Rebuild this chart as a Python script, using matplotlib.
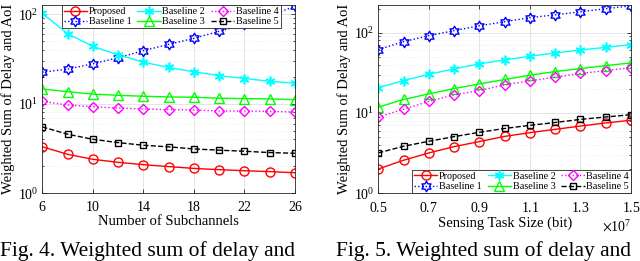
import numpy as np
import matplotlib
matplotlib.use('agg')
import matplotlib.pyplot as plt
from matplotlib.path import Path
from matplotlib.ticker import LogLocator, NullFormatter, ScalarFormatter

plt.rcParams['font.family'] = ['Liberation Serif', 'DejaVu Serif']
plt.rcParams['mathtext.fontset'] = 'stix'

# Fig. 4 data: number of subchannels
subch = [6, 8, 10, 12, 14, 16, 18, 20, 22, 24, 26]
l_prop = [3.3, 2.72, 2.39, 2.21, 2.08, 1.98, 1.89, 1.83, 1.78, 1.74, 1.69]
l_b1 = [22.5, 24.3, 27.9, 32.6, 39.1, 46.0, 53.7, 64.4, 77.0, 97.0, 122.0]
l_b2 = [102.0, 60.7, 43.7, 35.2, 29.1, 25.4, 22.7, 20.6, 19.1, 17.8, 16.9]
l_b3 = [14.6, 13.6, 12.8, 12.4, 12.1, 11.9, 11.8, 11.5, 11.4, 11.3, 11.1]
l_b4 = [10.6, 9.67, 9.25, 8.94, 8.71, 8.57, 8.5, 8.28, 8.28, 8.2, 8.06]
l_b5 = [5.5, 4.56, 4.0, 3.67, 3.43, 3.29, 3.12, 3.02, 2.94, 2.84, 2.79]

# Fig. 5 data: sensing task size (bit)
task = [0.5e7, 0.6e7, 0.7e7, 0.8e7, 0.9e7, 1.0e7, 1.1e7, 1.2e7, 1.3e7, 1.4e7, 1.5e7]
r_prop = [2.0, 2.57, 3.17, 3.8, 4.39, 5.1, 5.67, 6.24, 6.86, 7.5, 8.1]
r_b1 = [61.5, 77.3, 91.8, 106.0, 122.0, 137.0, 154.0, 167.0, 182.0, 199.0, 216.0]
r_b2 = [20.6, 25.3, 30.3, 35.4, 40.8, 45.8, 50.8, 55.9, 60.9, 65.7, 71.0]
r_b3 = [11.8, 14.7, 17.3, 20.1, 23.0, 26.1, 29.5, 32.8, 35.7, 38.9, 42.0]
r_b4 = [8.87, 11.1, 13.9, 16.8, 19.0, 22.4, 25.1, 27.9, 31.0, 33.7, 36.7]
r_b5 = [3.17, 3.84, 4.43, 5.06, 5.73, 6.4, 7.0, 7.6, 8.3, 8.9, 9.5]

names = ['Proposed', 'Baseline 1', 'Baseline 2', 'Baseline 3', 'Baseline 4', 'Baseline 5']

# hexagram marker (MATLAB 'h')
ang = np.pi / 2 + np.arange(12) * np.pi / 6
rad = np.where(np.arange(12) % 2 == 0, 1.0, 1 / np.sqrt(3))
verts = np.column_stack([rad * np.cos(ang), rad * np.sin(ang)])
hexagram = Path(np.vstack([verts, verts[:1]]), closed=True)

styles = [
    dict(color='#ff0000', ls='-', marker='o', ms=6.5),
    dict(color='#0000ff', ls=':', marker=hexagram, ms=7.5),
    dict(color='#00ffff', ls='-', marker=(6, 2, 0), ms=7, mew=1.2),
    dict(color='#00ff00', ls='-', marker='^', ms=7),
    dict(color='#ff00ff', ls=':', marker='D', ms=5.5),
    dict(color='#000000', ls='--', marker='s', ms=5),
]


def draw(ax, x, series, ylim, legloc, anchor):
    for y, name, st in zip(series, names, styles):
        ax.plot(x, y, label=name, lw=1.0, mfc='none', **st)
    ax.set_yscale('log')
    ax.set_ylim(*ylim)
    ax.yaxis.set_minor_locator(LogLocator(subs=np.arange(2, 10)))
    ax.yaxis.set_minor_formatter(NullFormatter())
    ax.grid(True, which='major', color='#e0e0e0', lw=0.6)
    ax.grid(True, which='minor', axis='y', color='#e6e6e6', lw=0.5, ls=':')
    ax.set_axisbelow(True)
    ax.tick_params(direction='in', which='both', top=True, right=True,
                   labelsize=10, length=3, width=0.5, pad=3)
    ax.tick_params(axis='x', pad=5.5)
    ax.tick_params(which='minor', length=1.5)
    for s in ax.spines.values():
        s.set_linewidth(0.6)
        s.set_color('#262626')
    ax.set_ylabel('Weighted Sum of Delay and AoI', fontsize=10.5, labelpad=2)
    leg = ax.legend(ncol=3, loc=legloc, bbox_to_anchor=anchor, fontsize=7.3,
                    handlelength=2.3, handletextpad=0.15, columnspacing=0.6,
                    labelspacing=0.1, borderpad=0.2, borderaxespad=0,
                    fancybox=False, framealpha=1, edgecolor='#262626')
    leg.get_frame().set_linewidth(0.6)


fig = plt.figure(figsize=(6.4, 2.61), dpi=100)
ax1 = fig.add_axes([0.066, 0.26, 0.395, 0.72])
ax2 = fig.add_axes([0.591, 0.26, 0.395, 0.72])

draw(ax1, subch, [l_prop, l_b1, l_b2, l_b3, l_b4, l_b5], (1, 126),
     'upper center', (0.51, 1.0))
ax1.set_xlim(6, 26)
ax1.set_xticks([6, 10, 14, 18, 22, 26])
ax1.set_xlabel('Number of Subchannels', fontsize=10.5, labelpad=1)

draw(ax2, task, [r_prop, r_b1, r_b2, r_b3, r_b4, r_b5], (1, 220),
     'lower right', (1.0, 0.0))
ax2.set_xlim(0.5e7, 1.5e7)
ax2.set_xticks([0.5e7, 0.7e7, 0.9e7, 1.1e7, 1.3e7, 1.5e7])
fmt = ScalarFormatter(useMathText=True)
fmt.set_powerlimits((7, 7))
ax2.xaxis.set_major_formatter(fmt)
ax2.xaxis.get_offset_text().set_fontsize(10)
ax2.set_xlabel('Sensing Task Size (bit)', fontsize=10.5, labelpad=1)

fig.text(0.0, 0.02, 'Fig. 4. Weighted sum of delay and', fontsize=15.5,
         ha='left', va='baseline')
fig.text(0.525, 0.02, 'Fig. 5. Weighted sum of delay and', fontsize=15.5,
         ha='left', va='baseline')

fig.savefig('out.png', dpi=100)
